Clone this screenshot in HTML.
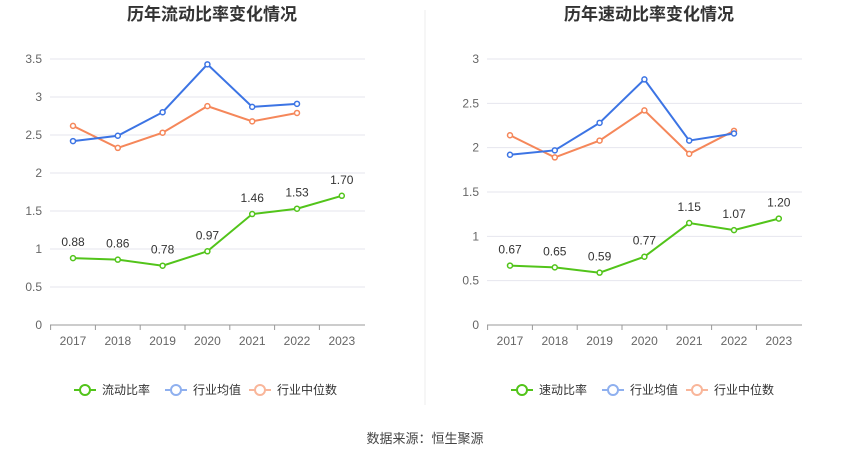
<!DOCTYPE html>
<html><head><meta charset="utf-8">
<style>
body{margin:0;background:#fff;font-family:"Liberation Sans","Noto Sans CJK SC",sans-serif;}
svg text{font-family:"Liberation Sans","Noto Sans CJK SC",sans-serif;}
</style></head>
<body>
<svg id="svg" width="850" height="459">
<line x1="425" y1="10" x2="425" y2="405" stroke="#eee"/>
<text x="425" y="443" text-anchor="middle" font-size="13" fill="#444">数据来源：恒生聚源</text>
</svg>
<script>
const years=["2017","2018","2019","2020","2021","2022","2023"];
const leftMain=[0.88,0.86,0.78,0.97,1.46,1.53,1.70];
const leftAvg=[2.42,2.49,2.80,3.43,2.87,2.91];
const leftMed=[2.62,2.33,2.53,2.88,2.68,2.79];
const leftTicks=["0","0.5","1","1.5","2","2.5","3","3.5"];
const rightMain=[0.67,0.65,0.59,0.77,1.15,1.07,1.20];
const rightAvg=[1.92,1.97,2.28,2.77,2.08,2.16];
const rightMed=[2.14,1.89,2.08,2.42,1.93,2.19];
const rightTicks=["0","0.5","1","1.5","2","2.5","3"];
const svg=document.getElementById('svg');
const NS="http://www.w3.org/2000/svg";
function mk(tag,attrs,name,parent){const e=document.createElementNS(NS,tag);for(const k in attrs)e.setAttribute(k,attrs[k]);


(parent||svg).appendChild(e);return e;}
function chart(ox,title,ticks,main,avg,med,mainName,prefix){
 const x0=ox+73,step=44.8,yb=325,yt=59,max=parseFloat(ticks[ticks.length-1]);
 const X=i=>x0+i*step,Y=v=>yb-(v/max)*(yb-yt);
 const g=mk('g',{},prefix+'-chart');
 const t=mk('text',{x:ox+212,y:20,'text-anchor':'middle','font-size':17,'font-weight':'bold',fill:'#333'},prefix+'-title',g);t.textContent=title;
 ticks.forEach(tk=>{const v=parseFloat(tk),y=Y(v);
  if(v>0)mk('line',{x1:ox+50,x2:ox+365,y1:y,y2:y,stroke:'#e6e6ee'},prefix+'-gridline',g);
  const tt=mk('text',{x:ox+42,y:y+4,'text-anchor':'end','font-size':12,fill:'#666'},prefix+'-y-tick',g);tt.textContent=tk;});
 mk('line',{x1:ox+50,x2:ox+365,y1:yb,y2:yb,stroke:'#999'},prefix+'-x-axis',g);
 years.forEach((yr,i)=>{mk('line',{x1:X(i)-22.4,x2:X(i)-22.4,y1:yb,y2:yb+5,stroke:'#999'},prefix+'-x-tickmark',g);
  const tt=mk('text',{x:X(i),y:yb+20,'text-anchor':'middle','font-size':12,fill:'#666'},prefix+'-x-tick',g);tt.textContent=yr;});
 function series(d,color,name,labels){
  mk('polyline',{points:d.map((v,i)=>X(i)+','+Y(v)).join(' '),fill:'none',stroke:color,'stroke-width':2},prefix+'-'+name+'-line',g);
  d.forEach((v,i)=>{mk('circle',{cx:X(i),cy:Y(v),r:2.5,fill:'#fff',stroke:color,'stroke-width':1.5},prefix+'-'+name+'-point',g);
   if(labels){const tt=mk('text',{x:X(i),y:Y(v)-12,'text-anchor':'middle','font-size':12,fill:'#333'},prefix+'-'+name+'-label',g);tt.textContent=v.toFixed(2);}});
 }
 series(med,'#f5875a','median');series(avg,'#3c74e4','avg');series(main,'#52c41a','main',true);
 const items=[[mainName,'#52c41a'],['行业均值','#8fb0ef'],['行业中位数','#f9b69a']];
 const lx=[ox+74,ox+165,ox+249];
 items.forEach((it,i)=>{const lg=mk('g',{},prefix+'-legend-entry',g);
  mk('line',{x1:lx[i],x2:lx[i]+22,y1:390,y2:390,stroke:it[1],'stroke-width':2},prefix+'-legend-line',lg);
  mk('circle',{cx:lx[i]+11,cy:390,r:5,fill:'#fff',stroke:it[1],'stroke-width':2},prefix+'-legend-marker',lg);
  const tt=mk('text',{x:lx[i]+28,y:394,'font-size':12,fill:'#333'},prefix+'-legend-text',lg);tt.textContent=it[0];});
}
chart(0,'历年流动比率变化情况',leftTicks,leftMain,leftAvg,leftMed,'流动比率','left');
chart(437,'历年速动比率变化情况',rightTicks,rightMain,rightAvg,rightMed,'速动比率','right');
</script>
</body></html>
